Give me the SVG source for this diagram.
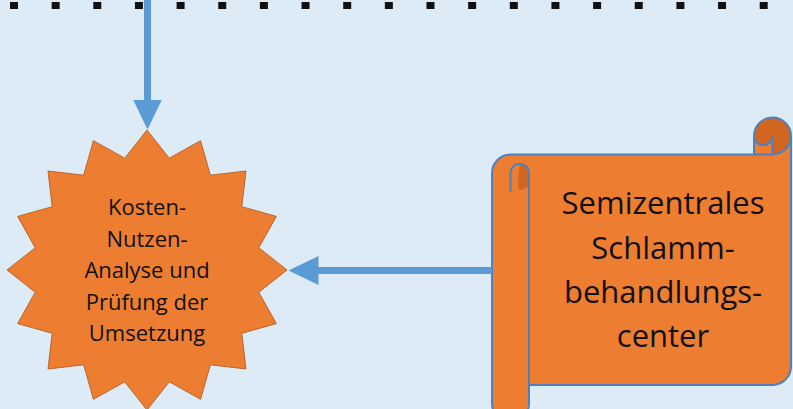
<svg xmlns="http://www.w3.org/2000/svg" width="793" height="409" viewBox="0 0 793 409">
<defs>
<style>
.dot{fill:#111;}
.conn{stroke:#5B9BD5;stroke-width:7;fill:none;}
.star{fill:#ED7D31;stroke:#B8662E;stroke-width:1;}
.scroll{fill:#ED7D31;}
.curl{fill:#D2651F;}
.outline{fill:none;stroke:#4F80BC;stroke-width:2;stroke-linejoin:round;}
.t1{font-family:"Open Sans","Noto Sans",sans-serif;font-size:22px;fill:#111;text-anchor:middle;}
.t2{font-family:"Open Sans","Noto Sans",sans-serif;font-size:31px;fill:#111;text-anchor:middle;}
</style>
<marker id="ah" markerUnits="userSpaceOnUse" markerWidth="31" markerHeight="29" refX="0.5" refY="14.5" orient="auto">
<path d="M0,0 L30,14.5 L0,29 Z" fill="#5B9BD5"/>
</marker>
</defs>
<rect x="0" y="0" width="793" height="409" fill="#DDEBF7"/>
<g id="dots">
<rect class="dot" x="10" y="2" width="8" height="7"/>
<rect class="dot" x="51.65" y="2" width="8" height="7"/>
<rect class="dot" x="93.3" y="2" width="8" height="7"/>
<rect class="dot" x="134.95" y="2" width="8" height="7"/>
<rect class="dot" x="176.6" y="2" width="8" height="7"/>
<rect class="dot" x="218.25" y="2" width="8" height="7"/>
<rect class="dot" x="259.9" y="2" width="8" height="7"/>
<rect class="dot" x="301.55" y="2" width="8" height="7"/>
<rect class="dot" x="343.2" y="2" width="8" height="7"/>
<rect class="dot" x="384.85" y="2" width="8" height="7"/>
<rect class="dot" x="426.5" y="2" width="8" height="7"/>
<rect class="dot" x="468.15" y="2" width="8" height="7"/>
<rect class="dot" x="509.8" y="2" width="8" height="7"/>
<rect class="dot" x="551.45" y="2" width="8" height="7"/>
<rect class="dot" x="593.1" y="2" width="8" height="7"/>
<rect class="dot" x="634.75" y="2" width="8" height="7"/>
<rect class="dot" x="676.4" y="2" width="8" height="7"/>
<rect class="dot" x="718.05" y="2" width="8" height="7"/>
<rect class="dot" x="759.7" y="2" width="8" height="7"/>
</g>
<g id="star-node">
<polygon class="star" points="147,130 169.24,158.19 200.58,140.66 210.33,175.21 245.99,171.01 241.79,206.67 276.34,216.42 258.81,247.76 287,270 258.81,292.24 276.34,323.58 241.79,333.33 245.99,368.99 210.33,364.79 200.58,399.34 169.24,381.81 147,410 124.76,381.81 93.42,399.34 83.67,364.79 48.01,368.99 52.21,333.33 17.66,323.58 35.19,292.24 7,270 35.19,247.76 17.66,216.42 52.21,206.67 48.01,171.01 83.67,175.21 93.42,140.66 124.76,158.19"/>
<text class="t1" x="147" y="215">Kosten-</text>
<text class="t1" x="147" y="246.5">Nutzen-</text>
<text class="t1" x="147" y="278">Analyse und</text>
<text class="t1" x="147" y="309.5">Prüfung der</text>
<text class="t1" x="147" y="341">Umsetzung</text>
</g>
<g id="scroll-node">
<path class="scroll" d="M791,136 A18.5,18.5 0 0 1 772.5,154.5 L772.5,136 A9.25,9.25 0 0 1 754,136 L754,154.5 L510.5,154.5 A18.5,18.5 0 0 0 492,173 L492,403.5 A18.5,18.5 0 0 0 529,403.5 L529,385 L772.5,385 A18.5,18.5 0 0 0 791,366.5 Z"/>
<path class="curl" d="M772.5,154.5 A18.5,18.5 0 1 0 754,136 A9.25,9.25 0 0 0 772.5,136 Z"/>
<path class="curl" d="M519.75,163.75 A9.25,9.25 0 0 1 529,173 L529,186 Q523,190.5 518.5,189.5 Q517.5,176 519.75,163.75 Z"/>
<path class="outline" d="M492,173 A18.5,18.5 0 0 1 510.5,154.5 L754,154.5 L754,136 A18.5,18.5 0 0 1 791,136 L791,366.5 A18.5,18.5 0 0 1 772.5,385 L529,385 L529,403.5 A18.5,18.5 0 0 1 492,403.5 Z M754,154.5 L772.5,154.5 A18.5,18.5 0 0 0 791,136 M772.5,154.5 L772.5,136 A9.25,9.25 0 0 1 754,136 M510.5,191.5 L510.5,173 A9.25,9.25 0 0 1 529,173 L529,385"/>
<text class="t2" x="663" y="214">Semizentrales</text>
<text class="t2" x="663" y="258.5">Schlamm-</text>
<text class="t2" x="663" y="303">behandlungs-</text>
<text class="t2" x="663" y="347">center</text>
</g>
<g id="connectors">
<line class="conn" x1="147.5" y1="0" x2="147.5" y2="100" marker-end="url(#ah)"/>
<line class="conn" x1="492" y1="270.5" x2="318" y2="270.5" marker-end="url(#ah)"/>
</g>
</svg>
